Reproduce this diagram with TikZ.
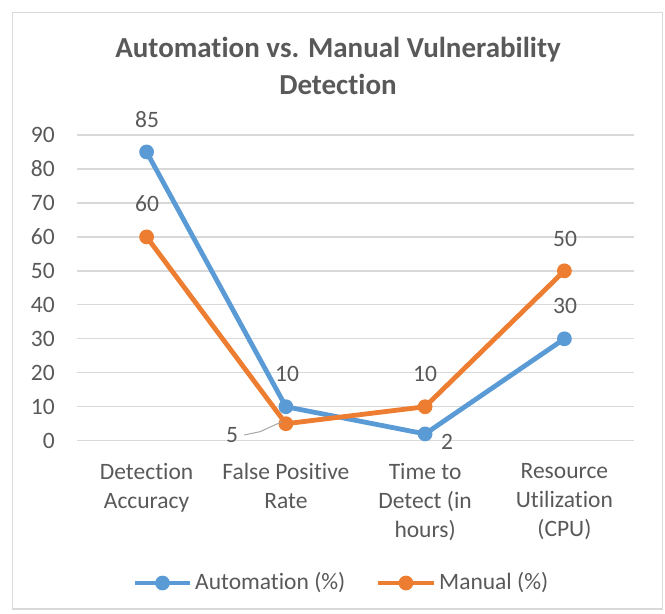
\documentclass[tikz,border=0pt]{standalone}
\usepackage{fontspec}
\setmainfont{Carlito}[RawFeature={-liga;-clig;-calt}]
\usetikzlibrary{calc}
\definecolor{autoblue}{HTML}{5B9BD5}
\definecolor{manorange}{HTML}{ED7D31}
\definecolor{gridgray}{HTML}{D9D9D9}
\definecolor{txtgray}{HTML}{595959}
\definecolor{leadgray}{HTML}{A6A6A6}

\begin{document}
\begin{tikzpicture}[x=1pt,y=-1pt,
  lbl/.style={text=txtgray,font=\fontsize{23.5}{29}\selectfont,inner sep=0pt},
  catlbl/.style={lbl,align=center,anchor=north},
  ttl/.style={text=txtgray,font=\fontsize{29}{37}\selectfont\bfseries,inner sep=0pt,align=center},
  gridline/.style={gridgray,line width=1.3pt},
  autoline/.style={autoblue,line width=4.8pt,line join=round,line cap=round},
  manline/.style={manorange,line width=4.8pt,line join=round,line cap=round},
  automark/.style={fill=autoblue},
  manmark/.style={fill=manorange}]
\useasboundingbox (0,0) rectangle (665,614);
% chart frame
\draw[gridgray,line width=1.5pt] (12.5,12.5) rectangle (662.5,609);

% title
\node[ttl] (title) at (338,66) {Automation vs. Manual Vulnerability\\Detection};

% horizontal grid and value axis labels
\foreach \v in {0,10,...,90}{
  \draw[gridline] (77,{440.7-\v*3.397}) -- (634,{440.7-\v*3.397});
  \node[lbl,anchor=east] (y\v) at (55,{440.7-\v*3.397}) {\v};
}

% data points
\coordinate (A1) at (146.6,{440.7-85*3.397});
\coordinate (A2) at (285.9,{440.7-10*3.397});
\coordinate (A3) at (425.1,{440.7-2*3.397});
\coordinate (A4) at (564.4,{440.7-30*3.397});
\coordinate (M1) at (146.6,{440.7-60*3.397});
\coordinate (M2) at (285.9,{440.7-5*3.397});
\coordinate (M3) at (425.1,{440.7-10*3.397});
\coordinate (M4) at (564.4,{440.7-50*3.397});

% automation series
\draw[autoline] (A1) -- (A2) -- (A3) -- (A4);
\foreach \p in {A1,A2,A3,A4} \fill[automark] (\p) circle (7.4);
% manual series
\draw[manline] (M1) -- (M2) -- (M3) -- (M4);
\foreach \p in {M1,M2,M3,M4} \fill[manmark] (\p) circle (7.4);

% data labels
\node[lbl] (dA1) at (147,120) {85};
\node[lbl] (dA2) at (287,374) {10};
\node[lbl] (dA3) at (447,442) {2};
\node[lbl] (dA4) at (565,306) {30};
\node[lbl] (dM1) at (147,204) {60};
\node[lbl] (dM2) at (232,435) {5};
\node[lbl] (dM3) at (425,374) {10};
\node[lbl] (dM4) at (565,239) {50};
\coordinate (lead) at (260,431.7);
\draw[leadgray,line width=1pt] ([xshift=6pt]dM2.east) -- (lead) -- ([xshift=-4pt,yshift=2pt]M2);

% category labels
\node[catlbl] (c1) at (146.6,463) {Detection\\Accuracy};
\node[catlbl] (c2) at (285.9,463) {False Positive\\Rate};
\node[catlbl] (c3) at (425.1,463) {Time to\\Detect (in\\hours)};
\node[catlbl] (c4) at (564.4,463) {Resource\\Utilization\\(CPU)};

% legend
\coordinate (la) at (135,583);
\coordinate (lb) at (190,583);
\draw[autoline,line cap=butt] (la) -- (lb);
\fill[automark] ($(la)!0.5!(lb)$) circle (7.4);
\node[lbl,anchor=west] (lega) at (195,583) {Automation (\%)};
\coordinate (lc) at (378,583);
\coordinate (ld) at (434,583);
\draw[manline,line cap=butt] (lc) -- (ld);
\fill[manmark] ($(lc)!0.5!(ld)$) circle (7.4);
\node[lbl,anchor=west] (legm) at (439,583) {Manual (\%)};
\end{tikzpicture}
\end{document}
